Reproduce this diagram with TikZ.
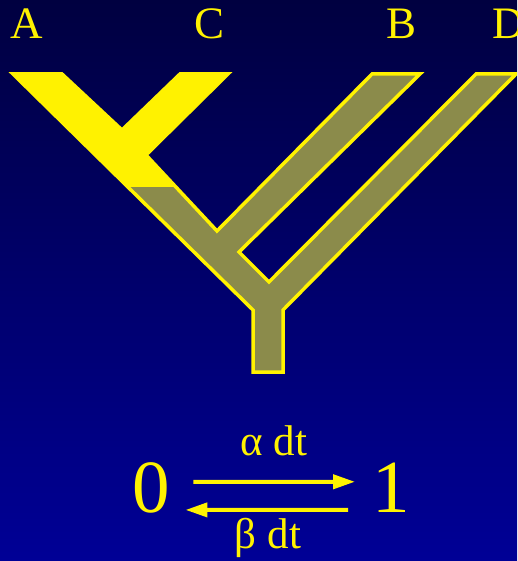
\documentclass[tikz,border=0pt]{standalone}
\usepackage{fontspec}
\setmainfont{Liberation Serif}
\usetikzlibrary{arrows.meta}
\definecolor{bgtop}{RGB}{0,0,64}
\definecolor{bgbot}{RGB}{0,0,150}
\definecolor{treeolive}{RGB}{139,139,75}
\tikzset{
  tiplabel/.style={text=yellow, font=\fontsize{45}{50}\selectfont, inner sep=0pt, anchor=base},
  statenode/.style={text=yellow, font=\fontsize{75}{80}\selectfont, inner sep=0pt, anchor=base},
  rate/.style={draw=yellow, line width=4pt, -{Triangle[length=22pt,width=14pt]}},
  ratelabel/.style={text=yellow, font=\fontsize{43}{48}\selectfont, inner sep=0pt, anchor=base}
}
\begin{document}
\begin{tikzpicture}[x=1pt,y=-1pt]
  \useasboundingbox (0,0) rectangle (517,561);
  \clip (0,0) rectangle (517,561);
  \shade[top color=bgtop, bottom color=bgbot] (0,0) rectangle (517,561);
  \draw[yellow, line width=3.5pt, fill=treeolive] (13,74) -- (62,74) -- (122,130) -- (180,74) -- (228,74)
    -- (146,155) -- (217,231) -- (372,74) -- (420,74) -- (239,252) -- (269,282) -- (476,74)
    -- (516,74) -- (283,310) -- (283,372) -- (253,372) -- (253,310) -- cycle;
  \fill[yellow] (13,74) -- (62,74) -- (122,130) -- (180,74) -- (228,74) -- (146,155)
    -- (176,187) -- (129,187) -- cycle;
  \node[tiplabel] (A) at (27,39) {A};
  \node[tiplabel] (C) at (210,39) {C};
  \node[tiplabel] (B) at (401,39) {B};
  \node[tiplabel, anchor=base west] (D) at (492,39) {D};
  \node[statenode] (zero) at (151.5,512) {0};
  \node[statenode] (one) at (391,512) {1};
  \draw[rate, shorten <=23pt, shorten >=17pt] ([yshift=5.5pt]zero.east) -- ([yshift=5.5pt]one.west);
  \draw[rate, shorten <=24pt, shorten >=15pt] ([yshift=-22.5pt]one.west) -- ([yshift=-22.5pt]zero.east);
  \node[ratelabel] (alpha) at (274,455) {α dt};
  \node[ratelabel] (beta) at (268,548) {β dt};
\end{tikzpicture}
\end{document}
